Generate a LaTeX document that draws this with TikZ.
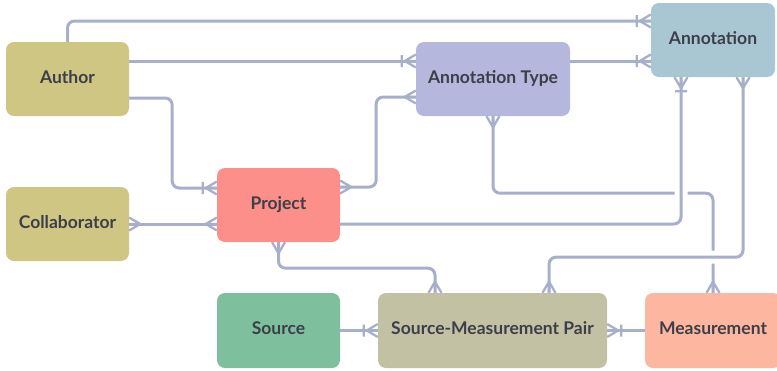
\documentclass[tikz,border=0pt]{standalone}
\usepackage{fontspec}
\setmainfont{Lato}
\usetikzlibrary{decorations.markings}

\definecolor{linec}{HTML}{A8AFCB}
\definecolor{textc}{HTML}{3C3F48}
\definecolor{authorc}{HTML}{CFC683}
\definecolor{projectc}{HTML}{FD8F8B}
\definecolor{atypec}{HTML}{B5B7DD}
\definecolor{annotc}{HTML}{A9C7D3}
\definecolor{sourcec}{HTML}{7EC09E}
\definecolor{pairc}{HTML}{C2C1A3}
\definecolor{measc}{HTML}{FDB6A0}

\tikzset{
  entity/.style={rectangle, rounded corners=8pt, draw=none, text=textc,
    font=\fontsize{17.5}{20}\selectfont\bfseries, inner sep=0pt,
    text height=13pt, text depth=5pt, minimum height=74pt},
  conn/.style={draw=linec, line width=3pt, rounded corners=7pt},
  foot/.style={draw=linec, line width=2.3pt, line cap=butt, sharp corners},
  halo/.style={preaction={draw=white, line width=13pt}},
  % crow's foot at the end of a path
  crowE/.style={postaction={decorate, decoration={markings,
    mark=at position 1 with {\draw[foot] (-11pt,0pt) -- (0pt,6.5pt)
      (-11pt,0pt) -- (0pt,-6.5pt) (-11pt,0pt) -- (0pt,0pt);}}}},
  % crow's foot with a bar at the end of a path
  crowbarE/.style={postaction={decorate, decoration={markings,
    mark=at position 1 with {\draw[foot] (-11pt,0pt) -- (0pt,6.5pt)
      (-11pt,0pt) -- (0pt,-6.5pt) (-11pt,0pt) -- (0pt,0pt)
      (-14pt,-6pt) -- (-14pt,6pt);}}}},
  % crow's foot at the start of a path
  crowS/.style={postaction={decorate, decoration={markings,
    mark=at position 0 with {\draw[foot] (11pt,0pt) -- (0pt,6.5pt)
      (11pt,0pt) -- (0pt,-6.5pt) (11pt,0pt) -- (0pt,0pt);}}}},
}

\begin{document}
\begin{tikzpicture}[x=1pt, y=-1pt]
\useasboundingbox (0,0) rectangle (777,370);

% entities
\node[entity, fill=authorc, minimum width=123pt] (author) at (67.5,79) {Author};
\node[entity, fill=authorc, minimum width=123pt] (collab) at (67.5,224) {Collaborator};
\node[entity, fill=projectc, minimum width=123pt] (project) at (278.5,205) {Project};
\node[entity, fill=atypec, minimum width=154pt] (atype) at (493,79) {Annotation Type};
\node[entity, fill=annotc, minimum width=124pt] (annot) at (713,40) {Annotation};
\node[entity, fill=sourcec, minimum width=123pt, minimum height=75pt] (source) at (278.5,330.5) {Source};
\node[entity, fill=pairc, minimum width=229pt, minimum height=75pt] (pair) at (492.5,330.5) {Source-Measurement Pair};
\node[entity, fill=measc, minimum width=136pt, minimum height=75pt] (meas) at (713,330.5) {Measurement};

% relationships
\draw[conn, crowS, crowE] (atype.south) -- ++(0,77) -| (meas.north);

\draw[conn, crowbarE] (author.north) |- ([yshift=19pt]annot.west);
\draw[conn, crowbarE] ([yshift=18pt]author.east) -- ([yshift=18pt]atype.west);
\draw[conn, crowbarE] ([yshift=18pt]atype.east) -- ([yshift=-21pt]annot.west);
\draw[conn, crowbarE] ([yshift=-19pt]author.east) -- ++(43,0) |- ([yshift=17pt]project.west);
\draw[conn, crowS, crowE] (collab.east) -- (collab.east -| project.west);
\draw[conn, crowS, crowE] ([yshift=18pt]project.east) -- ++(36,0) |- ([yshift=-18pt]atype.west);
\draw[conn, halo, crowbarE] ([yshift=-19pt]project.east) -| ([xshift=-32pt]annot.south);
\draw[conn, halo, crowS, crowE] ([xshift=30pt]annot.south) -- ++(0,180) -| ([xshift=56.5pt]pair.north);
\draw[conn, crowS, crowE] (project.south) -- ++(0,26) -| ([xshift=-57.5pt]pair.north);
\draw[conn, crowbarE] (source.east) -- (pair.west);
\draw[conn, crowbarE] (meas.west) -- (pair.east);
\end{tikzpicture}
\end{document}
